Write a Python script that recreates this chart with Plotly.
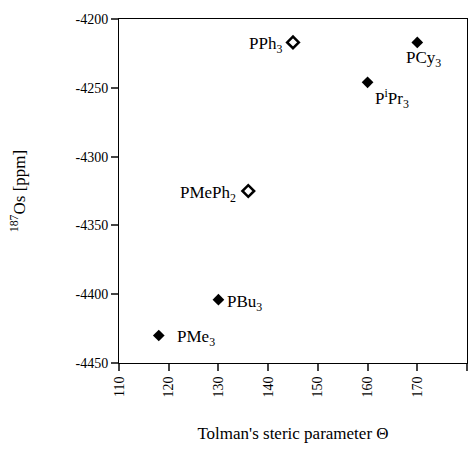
import plotly.graph_objects as go

ligands = ["PMe3", "PBu3", "PMePh2", "PPh3", "PiPr3", "PCy3"]
labels = ["PMe<sub>3</sub>", "PBu<sub>3</sub>", "PMePh<sub>2</sub>", "PPh<sub>3</sub>",
          "P<sup>i</sup>Pr<sub>3</sub>", "PCy<sub>3</sub>"]
cone_angle = [118, 130, 136, 145, 160, 170]
shift_ppm = [-4430, -4404, -4325, -4217, -4246, -4217]
open_marker = [False, False, True, True, False, False]
x_ticks = [110, 120, 130, 140, 150, 160, 170, 180]
y_ticks = [-4450, -4400, -4350, -4300, -4250, -4200]
y_ticktext = ["-4450", "-4400", "-4350", "-4300", "-4250", "-4200"]

FONT = "Liberation Serif"

fig = go.Figure()
filled_x = [x for x, o in zip(cone_angle, open_marker) if not o]
filled_y = [y for y, o in zip(shift_ppm, open_marker) if not o]
open_x = [x for x, o in zip(cone_angle, open_marker) if o]
open_y = [y for y, o in zip(shift_ppm, open_marker) if o]

fig.add_trace(go.Scatter(x=filled_x, y=filled_y, mode="markers",
                         marker=dict(symbol="diamond", size=9, color="black"),
                         showlegend=False))
fig.add_trace(go.Scatter(x=open_x, y=open_y, mode="markers",
                         marker=dict(symbol="diamond-open", size=9, color="black",
                                     line=dict(width=2.5, color="black")),
                         showlegend=False))

# label placement: (xanchor, yanchor, xshift, yshift)
place = {
    "PMe3": ("left", "middle", 16, -3),
    "PBu3": ("left", "middle", 7, -3),
    "PMePh2": ("right", "middle", -10, -3),
    "PPh3": ("right", "middle", -9, -3),
    "PiPr3": ("left", "top", 5, -2),
    "PCy3": ("center", "top", 6, -4),
}
for lig, lab, x, y in zip(ligands, labels, cone_angle, shift_ppm):
    xa, ya, xs, ys = place[lig]
    fig.add_annotation(x=x, y=y, text=lab, showarrow=False, xanchor=xa, yanchor=ya,
                       xshift=xs, yshift=ys, font=dict(family=FONT, size=17, color="black"))

fig.update_layout(
    width=471, height=450,
    margin=dict(l=119, r=4, t=19, b=87),
    paper_bgcolor="white", plot_bgcolor="white",
    font=dict(family=FONT, color="black", size=14),
    xaxis=dict(range=[110, 180], tickvals=x_ticks,
               tickangle=-90, ticks="outside", ticklen=7, tickwidth=2,
               showline=True, linecolor="black", linewidth=1, mirror=True,
               showgrid=False, zeroline=False,
               title=dict(text="Tolman's steric parameter \u0398", standoff=30,
                          font=dict(family=FONT, size=17))),
    yaxis=dict(range=[-4450, -4200], tickvals=y_ticks, ticktext=y_ticktext,
               ticks="outside", ticklen=7, tickwidth=2,
               showline=True, linecolor="black", linewidth=1, mirror=True,
               showgrid=False, zeroline=False,
               title=dict(text="<sup>187</sup>Os [ppm]", standoff=45,
                          font=dict(family=FONT, size=17))),
)

fig.write_html("out.html", config={"displayModeBar": False},
               post_script="document.body.style.margin='0';document.body.style.overflow='hidden';")
